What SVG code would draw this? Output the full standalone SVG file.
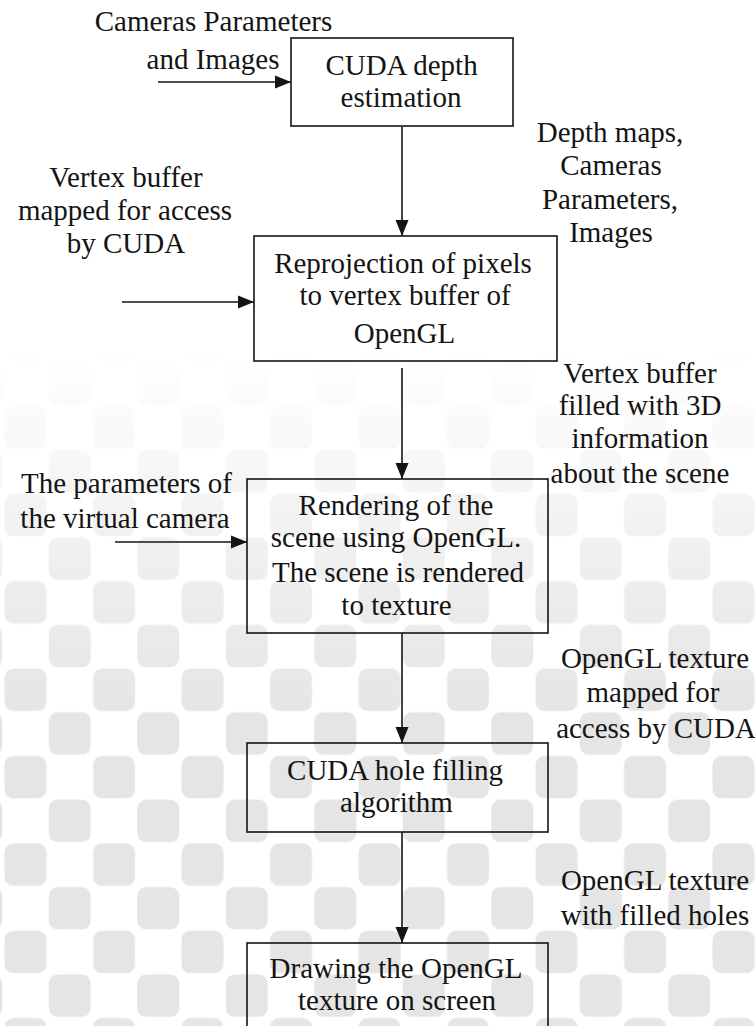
<svg xmlns="http://www.w3.org/2000/svg" width="755" height="1026" viewBox="0 0 755 1026">
  <style>
    .t { font-family: 'Liberation Serif', 'DejaVu Serif', serif; font-size: 29px; fill: #141414; text-anchor: middle; }
    .box { fill: none; stroke: #141414; stroke-width: 1.6; }
    .edge { fill: none; stroke: #141414; stroke-width: 1.6; marker-end: url(#arrow); }
  </style>
  <defs>
    <marker id="arrow" markerUnits="userSpaceOnUse" markerWidth="16" markerHeight="14" refX="16" refY="7" orient="auto">
      <path d="M0,0.5 L16,7 L0,13.5 z" fill="#141414"/>
    </marker>
    <pattern id="bgtile" patternUnits="userSpaceOnUse" x="4" y="668" width="88.5" height="87.4">
      <rect x="0.5" y="0.5" width="42" height="42.5" rx="9" fill="#e5e5e5"/>
      <rect x="44.75" y="44.2" width="42" height="42.5" rx="9" fill="#e5e5e5"/>
    </pattern>
    <linearGradient id="fade" gradientUnits="userSpaceOnUse" x1="0" y1="350" x2="0" y2="720">
      <stop offset="0" stop-color="#fff" stop-opacity="0"/>
      <stop offset="0.25" stop-color="#fff" stop-opacity="0.25"/>
      <stop offset="0.65" stop-color="#fff" stop-opacity="0.7"/>
      <stop offset="1" stop-color="#fff" stop-opacity="1"/>
    </linearGradient>
    <mask id="fademask" maskUnits="userSpaceOnUse" x="0" y="0" width="755" height="1026">
      <rect x="0" y="0" width="755" height="1026" fill="url(#fade)"/>
    </mask>
  </defs>

  <rect x="0" y="0" width="755" height="1026" fill="#ffffff"/>
  <g id="background" mask="url(#fademask)">
    <rect x="0" y="350" width="755" height="676" fill="url(#bgtile)"/>
  </g>

  <g id="connectors">
    <line class="edge" x1="158" y1="82" x2="291" y2="82"/>
    <line class="edge" x1="402" y1="127" x2="402" y2="236"/>
    <line class="edge" x1="122" y1="302" x2="254" y2="302"/>
    <line class="edge" x1="402" y1="368" x2="402" y2="479"/>
    <line class="edge" x1="115" y1="542" x2="247" y2="542"/>
    <line class="edge" x1="402" y1="633" x2="402" y2="743"/>
    <line class="edge" x1="402" y1="832" x2="402" y2="943"/>
  </g>

  <g id="labels" font-family="Liberation Serif, DejaVu Serif, serif">
    <text class="t" x="213.5" y="31">Cameras Parameters</text>
    <text class="t" x="213" y="69">and Images</text>
    <text class="t" x="126" y="187">Vertex buffer</text>
    <text class="t" x="125" y="220">mapped for access</text>
    <text class="t" x="126" y="253">by CUDA</text>
    <text class="t" x="610" y="142">Depth maps,</text>
    <text class="t" x="611" y="175">Cameras</text>
    <text class="t" x="610" y="209">Parameters,</text>
    <text class="t" x="611" y="242">Images</text>
    <text class="t" x="640" y="383">Vertex buffer</text>
    <text class="t" x="640" y="415">filled with 3D</text>
    <text class="t" x="640" y="448">information</text>
    <text class="t" x="640" y="483">about the scene</text>
    <text class="t" x="126.5" y="493">The parameters of</text>
    <text class="t" x="125" y="528">the virtual camera</text>
    <text class="t" x="655" y="668">OpenGL texture</text>
    <text class="t" x="653" y="702">mapped for</text>
    <text class="t" x="656" y="738">access by CUDA</text>
    <text class="t" x="655" y="890">OpenGL texture</text>
    <text class="t" x="655" y="925">with filled holes</text>
  </g>

  <g id="node-depth" font-family="Liberation Serif, DejaVu Serif, serif">
    <rect class="box" x="291" y="38" width="222" height="88"/>
    <text class="t" x="401.5" y="75">CUDA depth</text>
    <text class="t" x="401" y="107">estimation</text>
  </g>

  <g id="node-reprojection" font-family="Liberation Serif, DejaVu Serif, serif">
    <rect class="box" x="254" y="236" width="303" height="125"/>
    <text class="t" x="403" y="273">Reprojection of pixels</text>
    <text class="t" x="405" y="305">to vertex buffer of</text>
    <text class="t" x="404.5" y="343">OpenGL</text>
  </g>

  <g id="node-rendering" font-family="Liberation Serif, DejaVu Serif, serif">
    <rect class="box" x="247" y="479" width="301" height="154"/>
    <text class="t" x="396" y="515">Rendering of the</text>
    <text class="t" x="396" y="547">scene using OpenGL.</text>
    <text class="t" x="398" y="582">The scene is rendered</text>
    <text class="t" x="396.5" y="615">to texture</text>
  </g>

  <g id="node-holefill" font-family="Liberation Serif, DejaVu Serif, serif">
    <rect class="box" x="247" y="743" width="301" height="89"/>
    <text class="t" x="395" y="780">CUDA hole filling</text>
    <text class="t" x="396.5" y="812">algorithm</text>
  </g>

  <g id="node-drawing" font-family="Liberation Serif, DejaVu Serif, serif">
    <rect class="box" x="247" y="943" width="301" height="100"/>
    <text class="t" x="396" y="978">Drawing the OpenGL</text>
    <text class="t" x="397" y="1010">texture on screen</text>
  </g>
</svg>
